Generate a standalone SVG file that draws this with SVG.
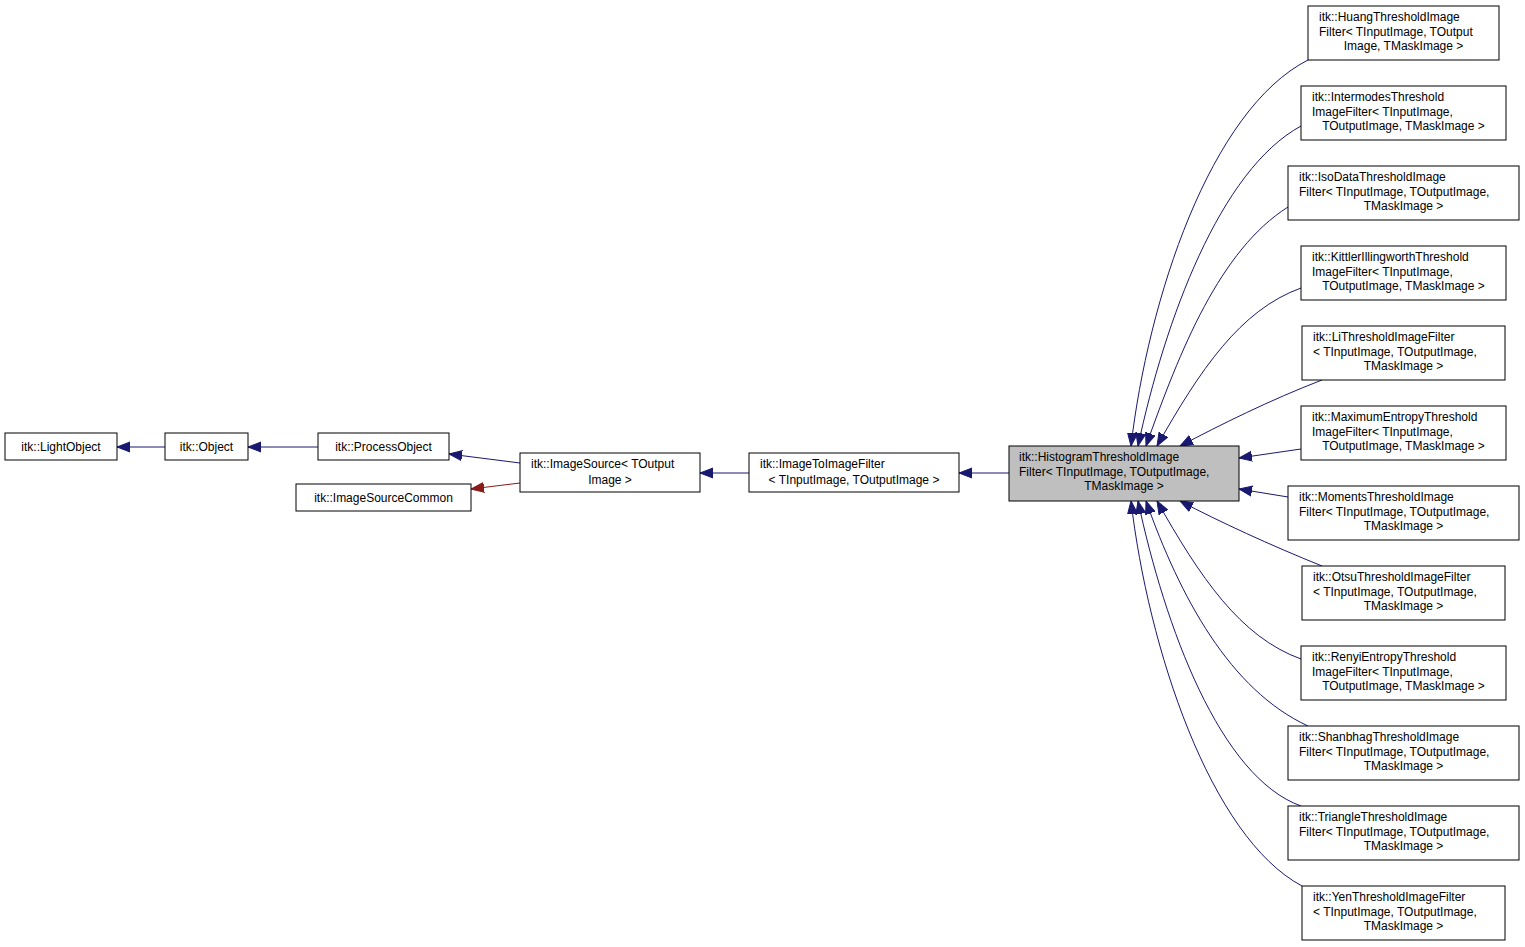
<svg xmlns="http://www.w3.org/2000/svg" width="1525" height="947" viewBox="0 0 1525 947">
<style>
.n rect{fill:#fff;stroke:#000;stroke-width:1}
.n text{font-family:"Liberation Sans",Arial,sans-serif;font-size:12px;fill:#000}
.m{text-anchor:middle}
.e path{fill:none;stroke:#191970;stroke-width:1}
.e path.r{stroke:#8b1a1a}
</style>
<defs>
<marker id="a" markerWidth="14" markerHeight="12" refX="13" refY="6" orient="auto" markerUnits="userSpaceOnUse"><path d="M0,1 L13,6 L0,11 Z" fill="#191970" stroke="#191970"/></marker>
<marker id="ar" markerWidth="14" markerHeight="12" refX="13" refY="6" orient="auto" markerUnits="userSpaceOnUse"><path d="M0,1 L13,6 L0,11 Z" fill="#8b1a1a" stroke="#8b1a1a"/></marker>
</defs>
<rect width="1525" height="947" fill="#fff"/>
<g class="e">
<path d="M165,447 L117,447" marker-end="url(#a)"/>
<path d="M318,447 L248,447" marker-end="url(#a)"/>
<path d="M520,463 L449,454" marker-end="url(#a)"/>
<path class="r" d="M520,483 L471,489" marker-end="url(#ar)"/>
<path d="M749,473 L700,473" marker-end="url(#a)"/>
<path d="M1009,473 L959,473" marker-end="url(#a)"/>
<path d="M1308,60 C1210,110 1148,300 1131,446" marker-end="url(#a)"/>
<path d="M1301,126 C1220,170 1165,320 1138,446" marker-end="url(#a)"/>
<path d="M1288,207 C1220,250 1180,350 1146,446" marker-end="url(#a)"/>
<path d="M1301,288 C1240,310 1200,370 1157,446" marker-end="url(#a)"/>
<path d="M1322,380 C1270,400 1220,425 1180,446" marker-end="url(#a)"/>
<path d="M1301,449 L1239,458" marker-end="url(#a)"/>
<path d="M1288,497 L1239,489" marker-end="url(#a)"/>
<path d="M1322,566 C1270,545 1220,522 1180,501" marker-end="url(#a)"/>
<path d="M1301,659 C1240,637 1200,577 1157,501" marker-end="url(#a)"/>
<path d="M1308,726 C1230,690 1180,597 1146,501" marker-end="url(#a)"/>
<path d="M1301,806 C1220,777 1165,627 1138,501" marker-end="url(#a)"/>
<path d="M1302,886 C1210,837 1148,647 1131,501" marker-end="url(#a)"/>
</g>
<g class="n" id="lightobject"><rect x="5" y="433" width="112" height="27"/><text class="m" x="61" y="451">itk::LightObject</text></g>
<g class="n" id="object"><rect x="165" y="433" width="83" height="27"/><text class="m" x="206.5" y="451">itk::Object</text></g>
<g class="n" id="processobject"><rect x="318" y="433" width="131" height="27"/><text class="m" x="383.5" y="451">itk::ProcessObject</text></g>
<g class="n" id="imagesourcecommon"><rect x="296" y="484" width="175" height="27"/><text class="m" x="383.5" y="502">itk::ImageSourceCommon</text></g>
<g class="n" id="imagesource"><rect x="520" y="453" width="180" height="39"/><text x="531" y="468">itk::ImageSource&lt; TOutput</text><text class="m" x="610" y="484">Image &gt;</text></g>
<g class="n" id="imagetoimage"><rect x="749" y="453" width="210" height="39"/><text x="760" y="468">itk::ImageToImageFilter</text><text class="m" x="854" y="484">&lt; TInputImage, TOutputImage &gt;</text></g>
<g class="n" id="histogram"><rect x="1009" y="446" width="230" height="55" style="fill:#bfbfbf"/><text x="1019" y="461">itk::HistogramThresholdImage</text><text x="1019" y="476">Filter&lt; TInputImage, TOutputImage,</text><text class="m" x="1124" y="490">TMaskImage &gt;</text></g>
<g class="n" id="huang"><rect x="1308" y="6" width="191" height="54"/><text x="1319" y="21">itk::HuangThresholdImage</text><text x="1319" y="36">Filter&lt; TInputImage, TOutput</text><text class="m" x="1403.5" y="50">Image, TMaskImage &gt;</text></g>
<g class="n" id="intermodes"><rect x="1301" y="86" width="205" height="54"/><text x="1312" y="101">itk::IntermodesThreshold</text><text x="1312" y="116">ImageFilter&lt; TInputImage,</text><text class="m" x="1403.5" y="130">TOutputImage, TMaskImage &gt;</text></g>
<g class="n" id="isodata"><rect x="1288" y="166" width="231" height="54"/><text x="1299" y="181">itk::IsoDataThresholdImage</text><text x="1299" y="196">Filter&lt; TInputImage, TOutputImage,</text><text class="m" x="1403.5" y="210">TMaskImage &gt;</text></g>
<g class="n" id="kittler"><rect x="1301" y="246" width="205" height="54"/><text x="1312" y="261">itk::KittlerIllingworthThreshold</text><text x="1312" y="276">ImageFilter&lt; TInputImage,</text><text class="m" x="1403.5" y="290">TOutputImage, TMaskImage &gt;</text></g>
<g class="n" id="li"><rect x="1302" y="326" width="203" height="54"/><text x="1313" y="341">itk::LiThresholdImageFilter</text><text x="1313" y="356">&lt; TInputImage, TOutputImage,</text><text class="m" x="1403.5" y="370">TMaskImage &gt;</text></g>
<g class="n" id="maxentropy"><rect x="1301" y="406" width="205" height="54"/><text x="1312" y="421">itk::MaximumEntropyThreshold</text><text x="1312" y="436">ImageFilter&lt; TInputImage,</text><text class="m" x="1403.5" y="450">TOutputImage, TMaskImage &gt;</text></g>
<g class="n" id="moments"><rect x="1288" y="486" width="231" height="54"/><text x="1299" y="501">itk::MomentsThresholdImage</text><text x="1299" y="516">Filter&lt; TInputImage, TOutputImage,</text><text class="m" x="1403.5" y="530">TMaskImage &gt;</text></g>
<g class="n" id="otsu"><rect x="1302" y="566" width="203" height="54"/><text x="1313" y="581">itk::OtsuThresholdImageFilter</text><text x="1313" y="596">&lt; TInputImage, TOutputImage,</text><text class="m" x="1403.5" y="610">TMaskImage &gt;</text></g>
<g class="n" id="renyi"><rect x="1301" y="646" width="205" height="54"/><text x="1312" y="661">itk::RenyiEntropyThreshold</text><text x="1312" y="676">ImageFilter&lt; TInputImage,</text><text class="m" x="1403.5" y="690">TOutputImage, TMaskImage &gt;</text></g>
<g class="n" id="shanbhag"><rect x="1288" y="726" width="231" height="54"/><text x="1299" y="741">itk::ShanbhagThresholdImage</text><text x="1299" y="756">Filter&lt; TInputImage, TOutputImage,</text><text class="m" x="1403.5" y="770">TMaskImage &gt;</text></g>
<g class="n" id="triangle"><rect x="1288" y="806" width="231" height="54"/><text x="1299" y="821">itk::TriangleThresholdImage</text><text x="1299" y="836">Filter&lt; TInputImage, TOutputImage,</text><text class="m" x="1403.5" y="850">TMaskImage &gt;</text></g>
<g class="n" id="yen"><rect x="1302" y="886" width="203" height="54"/><text x="1313" y="901">itk::YenThresholdImageFilter</text><text x="1313" y="916">&lt; TInputImage, TOutputImage,</text><text class="m" x="1403.5" y="930">TMaskImage &gt;</text></g>
</svg>
